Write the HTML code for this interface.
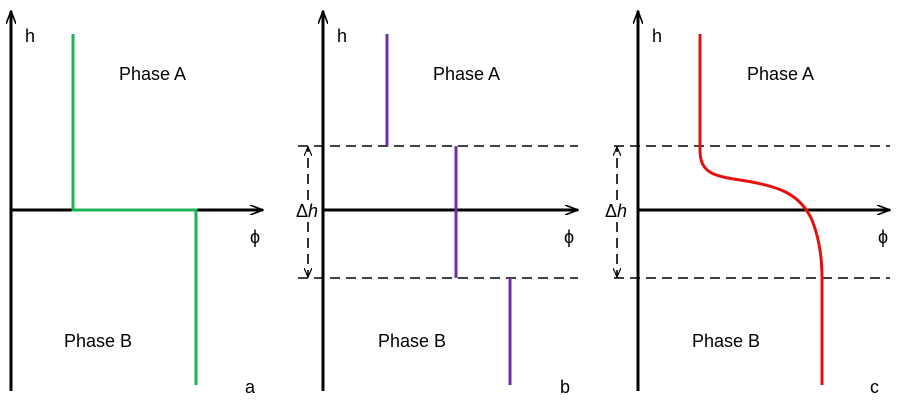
<!DOCTYPE html>
<html><head><style>body{margin:0;background:#fff}svg{display:block}</style></head><body>
<svg width="900" height="401" viewBox="0 0 900 401" xmlns="http://www.w3.org/2000/svg" font-family="Liberation Sans, sans-serif">
<defs>
<marker id="ar" markerWidth="14" markerHeight="10" refX="13" refY="5" orient="auto" markerUnits="userSpaceOnUse"><path d="M0,0 L13,5 L0,10" fill="none" stroke="#000" stroke-width="1.6"/></marker>
<marker id="sa" markerWidth="10" markerHeight="8" refX="9" refY="4" orient="auto" markerUnits="userSpaceOnUse"><path d="M0,0 L9,4 L0,8" fill="none" stroke="#000" stroke-width="1.2"/></marker>
</defs>
<g stroke="#000" stroke-width="3" fill="none">
<line x1="11" y1="391" x2="11" y2="11" marker-end="url(#ar)"/>
<line x1="11" y1="210" x2="263" y2="210" marker-end="url(#ar)"/>
<line x1="323" y1="391" x2="323" y2="11" marker-end="url(#ar)"/>
<line x1="323" y1="210" x2="578" y2="210" marker-end="url(#ar)"/>
<line x1="638" y1="391" x2="638" y2="11" marker-end="url(#ar)"/>
<line x1="638" y1="210" x2="890" y2="210" marker-end="url(#ar)"/>
</g>
<g stroke="#000" stroke-width="1.6" stroke-dasharray="10,6" fill="none">
<line x1="298" y1="146" x2="578" y2="146"/><line x1="298" y1="278" x2="578" y2="278"/>
<line x1="614" y1="146" x2="890" y2="146"/><line x1="614" y1="278" x2="890" y2="278"/>
<line x1="308" y1="200" x2="308" y2="147" marker-end="url(#sa)"/>
<line x1="308" y1="222" x2="308" y2="277" marker-end="url(#sa)"/>
<line x1="617" y1="200" x2="617" y2="147" marker-end="url(#sa)"/>
<line x1="617" y1="222" x2="617" y2="277" marker-end="url(#sa)"/>
</g>
<path d="M73,34 V210 H196 V385" stroke="#1db354" stroke-width="3" fill="none"/>
<g stroke="#7030a0" stroke-width="3"><line x1="387" y1="34" x2="387" y2="146"/><line x1="456" y1="146" x2="456" y2="278"/><line x1="510" y1="278" x2="510" y2="385"/></g>
<path d="M700,34 V150 C700,172 712,176 740,180 C780,186 800,194 812,220 C820,240 822,260 822,278 V385" stroke="#e41010" stroke-width="3" fill="none"/>
<g font-size="18" fill="#000">
<text x="25" y="42">h</text><text x="337" y="42">h</text><text x="652" y="42">h</text>
<text x="119" y="80">Phase A</text><text x="433" y="80">Phase A</text><text x="747" y="80">Phase A</text>
<text x="64" y="347">Phase B</text><text x="378" y="347">Phase B</text><text x="692" y="347">Phase B</text>
<text x="250" y="243">ϕ</text><text x="564" y="243">ϕ</text><text x="878" y="243">ϕ</text>
<text x="245" y="393">a</text><text x="560" y="393">b</text><text x="870" y="393">c</text>
<text x="296" y="217">Δ<tspan font-style="italic">h</tspan></text>
<text x="605" y="217">Δ<tspan font-style="italic">h</tspan></text>
</g>
</svg>
</body></html>
